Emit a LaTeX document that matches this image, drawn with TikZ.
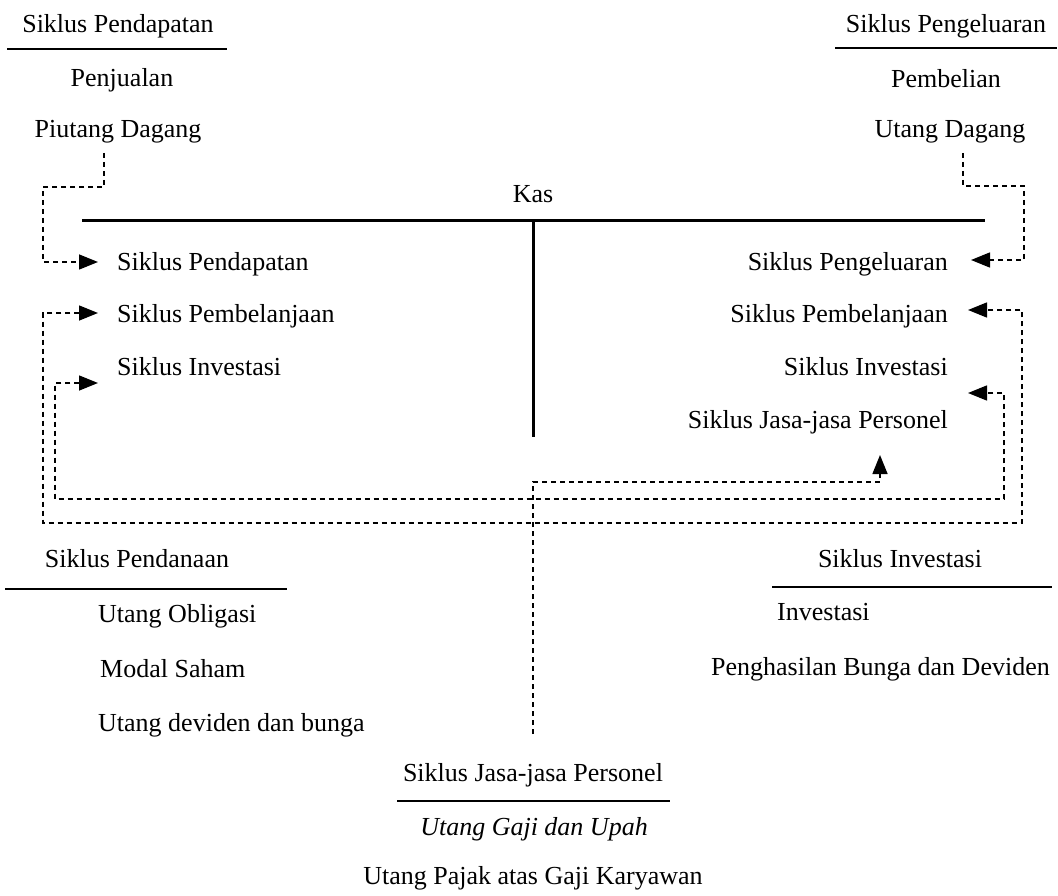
\documentclass[tikz,border=0pt]{standalone}
\usepackage{fontspec}
\setmainfont{Liberation Serif}
\usetikzlibrary{arrows.meta,calc}
\begin{document}
\begin{tikzpicture}[x=1pt,y=-1pt,
  txt/.style={inner sep=0pt, font=\fontsize{26}{30}\selectfont},
  uline/.style={line width=1.8pt},
  kasline/.style={line width=3pt},
  dline/.style={line width=1.5pt, dash pattern=on 5pt off 4pt},
  tipend/.style={-{Triangle[length=19pt,width=15pt]}},
  tipboth/.style={{Triangle[length=19pt,width=15pt]}-{Triangle[length=19pt,width=15pt]}}]
\useasboundingbox (0,0) rectangle (1058,896);

% top-left
\node[txt,anchor=base] (hpd) at (118,33) {Siklus Pendapatan};
\draw[uline] (7,49) -- (227,49);
\node[txt,anchor=base] (pj) at (122,87) {Penjualan};
\node[txt,anchor=base] (pdg) at (118,138) {Piutang Dagang};

% top-right
\node[txt,anchor=base] (hpk) at (946,33) {Siklus Pengeluaran};
\draw[uline] (835,48) -- (1057,48);
\node[txt,anchor=base] (pbl) at (946,88) {Pembelian};
\node[txt,anchor=base] (udg) at (950,138) {Utang Dagang};

% Kas T-account
\node[txt,anchor=base] (kas) at (533,203) {Kas};
\draw[kasline] (82,221) -- (985,221);
\draw[kasline] (533,221) -- (533,437);

% left column
\node[txt,anchor=base west] (lpd) at (117,271) {Siklus Pendapatan};
\node[txt,anchor=base west] (lpb) at (117,322) {Siklus Pembelanjaan};
\node[txt,anchor=base west] (liv) at (117,375) {Siklus Investasi};

% right column
\node[txt,anchor=base east] (rpk) at (948,270) {Siklus Pengeluaran};
\node[txt,anchor=base east] (rpb) at (948,323) {Siklus Pembelanjaan};
\node[txt,anchor=base east] (riv) at (948,375) {Siklus Investasi};
\node[txt,anchor=base east] (rjs) at (948,428) {Siklus Jasa-jasa Personel};

% bottom-left
\node[txt,anchor=base] (hpn) at (137,567) {Siklus Pendanaan};
\draw[uline] (5,589) -- (287,589);
\node[txt,anchor=base west] (uob) at (98,622) {Utang Obligasi};
\node[txt,anchor=base west] (msh) at (100,677) {Modal Saham};
\node[txt,anchor=base west] (udb) at (98,731) {Utang deviden dan bunga};

% bottom-right
\node[txt,anchor=base] (hiv) at (900,567) {Siklus Investasi};
\draw[uline] (772,587) -- (1052,587);
\node[txt,anchor=base west] (inv) at (777,620) {Investasi};
\node[txt,anchor=base east] (pbd) at (1050,675) {Penghasilan Bunga dan Deviden};

% bottom-center
\node[txt,anchor=base] (hjs) at (533,781) {Siklus Jasa-jasa Personel};
\draw[uline] (397,801) -- (670,801);
\node[txt,anchor=base] (ugu) at (534,835) {\itshape Utang Gaji dan Upah};
\node[txt,anchor=base] (upg) at (533,884) {Utang Pajak atas Gaji Karyawan};

% connector end points
\coordinate (pdgout) at (104,153);
\coordinate (lpdin) at (98,262);
\coordinate (udgout) at (963,153);
\coordinate (rpkin) at (971,260);
\coordinate (lpbin) at (98,313);
\coordinate (rpbin) at (968,310);
\coordinate (livin) at (98,383);
\coordinate (rivin) at (968,393);
\coordinate (hjsout) at (533,734);
\coordinate (rjsin) at (880,455);

% dashed connectors
\draw[dline,tipend] (pdgout) -- (104,187) -- (43,187) -- (43,262) -- (lpdin);
\draw[dline,tipend] (udgout) -- (963,186) -- (1024,186) -- (1024,260) -- (rpkin);
\draw[dline,tipboth] (lpbin) -- (43,313) -- (43,523) -- (1022,523) -- (1022,310) -- (rpbin);
\draw[dline,tipboth] (livin) -- (55,383) -- (55,499) -- (1004,499) -- (1004,393) -- (rivin);
\draw[dline,tipend] (hjsout) -- (533,482) -- (880,482) -- (rjsin);
\end{tikzpicture}
\end{document}
